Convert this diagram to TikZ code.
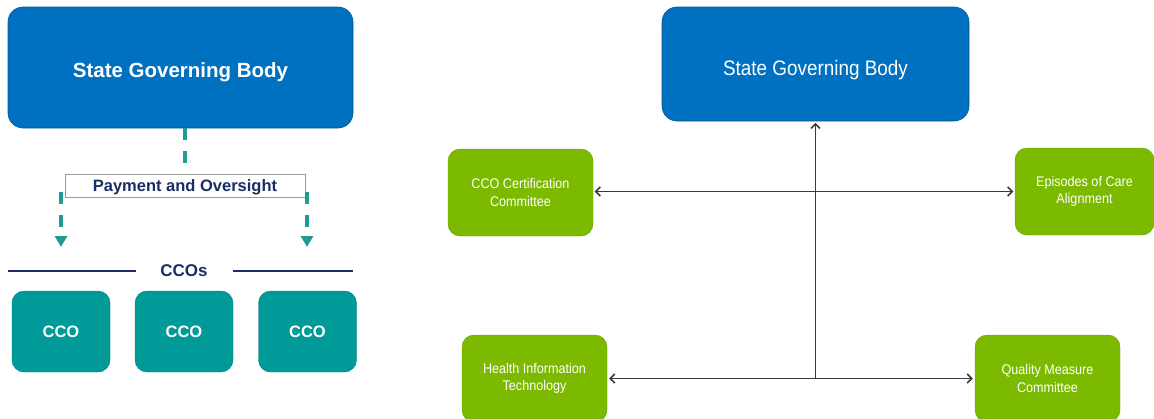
\documentclass[tikz,border=0pt]{standalone}
\usepackage{fontspec}
\setmainfont{Liberation Sans}
\newfontfamily\narrowfont[FakeStretch=0.9]{Liberation Sans}
\usetikzlibrary{arrows.meta}
\definecolor{sgblue}{HTML}{0070C0}
\definecolor{ccoteal}{HTML}{009A98}
\definecolor{dashteal}{HTML}{1E9C94}
\definecolor{navy}{HTML}{1B2E63}
\definecolor{boxgreen}{HTML}{7CBA00}
\definecolor{conngray}{HTML}{3A3A3A}
\tikzset{
  bluebox/.style={draw=sgblue!80!black, line width=0.6pt, fill=sgblue, rounded corners=15pt, inner sep=0pt, text=white},
  ccobox/.style={draw=ccoteal!80!black, line width=0.4pt, fill=ccoteal, rounded corners=12pt, inner sep=0pt, text=white, minimum width=98pt, minimum height=81pt, font=\bfseries\fontsize{16.5}{18}\selectfont},
  greenbox/.style={draw=boxgreen!85!black, line width=0.4pt, fill=boxgreen, rounded corners=12pt, inner sep=0pt, text=white, align=center, minimum width=145pt, minimum height=87pt, font=\narrowfont\fontsize{14}{17.5}\selectfont},
  tealdash/.style={draw=dashteal, line width=4pt, dash pattern=on 12pt off 11pt},
  conn/.style={draw=conngray, line width=1.8pt, arrows={Straight Barb[length=4.5pt,width=9pt,line width=1.6pt]-Straight Barb[length=4.5pt,width=9pt,line width=1.6pt]}},
  connup/.style={draw=conngray, line width=1.8pt, -{Straight Barb[length=4.5pt,width=9pt,line width=1.6pt]}},
  navyline/.style={draw=navy, line width=2pt},
}
\begin{document}
\begin{tikzpicture}[x=1pt,y=-1pt]
\useasboundingbox (0,0) rectangle (1154,418);
\clip (0,0) rectangle (1154,418);
% ---------- left part ----------
\node[bluebox, minimum width=345pt, minimum height=121pt, font=\bfseries\fontsize{20.5}{23}\selectfont] (sgbL) at (180.5,67.5) {\raisebox{-5pt}[\height][\depth]{State Governing Body}};
\node[draw=black!40, line width=0.6pt, fill=white, inner sep=0pt, minimum width=240pt, minimum height=23pt, text=navy, font=\bfseries\fontsize{16.5}{18}\selectfont] (pay) at (185,185.5) {\raisebox{-2pt}[\height][\depth]{Payment and Oversight}};
\draw[tealdash, shorten >=9pt] (sgbL.south -| pay.north) -- (pay.north);
\coordinate (la) at (61,192);
\coordinate (lb) at (61,247);
\coordinate (ra) at (307,192);
\coordinate (rb) at (307,247);
\draw[tealdash, -{Triangle[width=12pt,length=11pt]}] (la) -- (lb);
\draw[tealdash, -{Triangle[width=12pt,length=11pt]}] (ra) -- (rb);
\node[text=navy, inner sep=0pt, font=\bfseries\fontsize{17}{19}\selectfont] (ccos) at (184,271) {CCOs};
\coordinate (lineLl) at (8,271);
\coordinate (lineLr) at (136,271);
\coordinate (lineRl) at (233,271);
\coordinate (lineRr) at (353,271);
\draw[navyline] (lineLl) -- (lineLr);
\draw[navyline] (lineRl) -- (lineRr);
\node[ccobox] (c1) at (61,331.5) {CCO};
\node[ccobox] (c2) at (184,331.5) {CCO};
\node[ccobox] (c3) at (307.5,331.5) {CCO};
% ---------- right part ----------
\node[bluebox, minimum width=307pt, minimum height=114pt, font=\narrowfont\fontsize{21}{24}\selectfont] (sgbR) at (815.5,64) {\raisebox{-6pt}[\height][\depth]{State Governing Body}};
\node[greenbox] (cert) at (520.5,192.5) {CCO Certification\\Committee};
\node[greenbox, minimum width=139pt] (epis) at (1084.5,191.5) {Episodes of Care\\Alignment};
\node[greenbox] (hit) at (534.5,378.5) {Health Information\\Technology};
\node[greenbox] (qual) at (1047.5,378.5) {Quality Measure\\Committee};
\draw[conn, shorten <=1.5pt, shorten >=1.5pt] (cert.east |- epis.west) -- (epis.west);
\draw[conn, shorten <=2pt, shorten >=2pt] (hit.east) -- (qual.west);
\coordinate (junc) at (sgbR.south |- hit.east);
\draw[connup, shorten >=1.5pt] (junc) -- (sgbR.south);
\end{tikzpicture}
\end{document}
